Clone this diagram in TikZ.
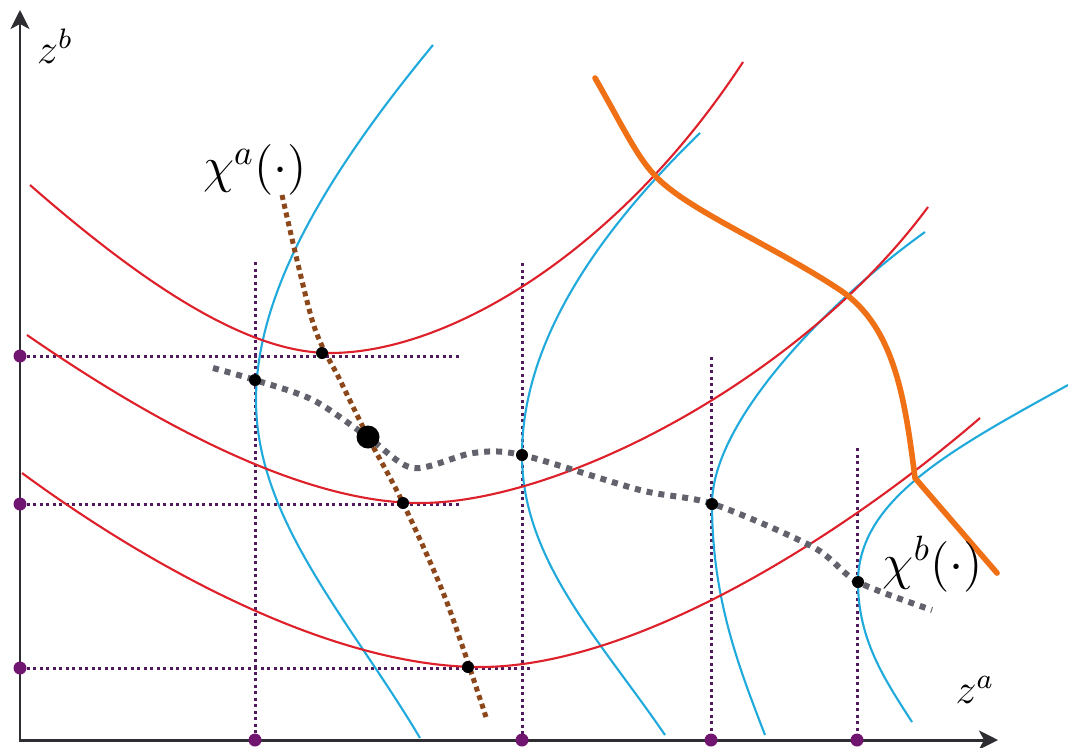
\documentclass[tikz,border=0pt]{standalone}
\usepackage{amsmath,amssymb}
\usepackage{xcolor}
\usepackage{tikz}
\usetikzlibrary{arrows.meta}
\definecolor{isoac}{RGB}{222,32,42}
\definecolor{isobc}{RGB}{32,170,220}
\definecolor{curvec}{RGB}{240,112,22}
\definecolor{reactac}{RGB}{140,72,26}
\definecolor{reactbc}{RGB}{98,98,108}
\definecolor{projc}{RGB}{80,26,92}
\definecolor{tickc}{RGB}{112,22,112}
\definecolor{axisc}{RGB}{45,45,50}
\tikzset{
  axisline/.style = {draw=axisc, line width=0.85pt,
                     {Stealth[length=1.9mm,width=1.9mm,inset=0.5mm]}-{Stealth[length=1.9mm,width=1.9mm,inset=0.5mm]}},
  isoa/.style     = {draw=isoac, line width=0.6pt},
  isob/.style     = {draw=isobc, line width=0.6pt},
  contract/.style = {draw=curvec, line width=1.6pt, line cap=round},
  reacta/.style   = {draw=reactac, line width=0.5mm, dash pattern=on 0.5mm off 0.4mm},
  reactb/.style   = {draw=reactbc, line width=0.6mm, dash pattern=on 0.6mm off 0.6mm},
  proj/.style     = {draw=projc, line width=0.3mm, dash pattern=on 0.3mm off 0.35mm},
  tickdot/.style  = {circle, fill=tickc, inner sep=0pt, minimum size=1.3mm},
  eqdot/.style    = {circle, fill=black, inner sep=0pt, minimum size=1.2mm},
  bigdot/.style   = {circle, fill=black, inner sep=0pt, minimum size=2.3mm},
  axislbl/.style  = {font=\fontsize{12}{14}\selectfont, inner sep=0pt},
  fnlbl/.style    = {font=\fontsize{14}{16}\selectfont, inner sep=0pt},
}
\begin{document}
\begin{tikzpicture}[x=0.1mm, y=-0.1mm]
\useasboundingbox (0,0) rectangle (1068,747);

% projections onto the axes
\draw[proj] (20,356) -- (460,356);
\draw[proj] (20,504) -- (460,504);
\draw[proj] (20,668) -- (533,668);
\draw[proj] (255,262) -- (255,740);
\draw[proj] (522,263) -- (522,740);
\draw[proj] (711,357) -- (711,740);
\draw[proj] (857,448) -- (857,740);

\draw[axisline] (20,10) -- (20,740) -- (998,740);

\draw[isob] (433,45) .. controls (330,170) and (256,290) .. (256,400)
  .. controls (256,520) and (350,620) .. (420,738);
\draw[isob] (700,133) .. controls (600,230) and (522,340) .. (522,455)
  .. controls (522,560) and (600,640) .. (665,735);
\draw[isob] (925,232) .. controls (830,300) and (712,420) .. (712,504)
  .. controls (712,600) and (740,670) .. (765,735);
\draw[isob] (1068,385) .. controls (950,450) and (858,500) .. (858,582)
  .. controls (858,640) and (885,680) .. (912,722);

\draw[isoa] (30,185) .. controls (150,290) and (250,353) .. (330,353)
  .. controls (450,353) and (620,250) .. (743,62);
\draw[isoa] (27,335) .. controls (150,420) and (300,503) .. (420,503)
  .. controls (560,503) and (800,380) .. (928,207);
\draw[isoa] (22,473) .. controls (165,578) and (340,667) .. (480,667)
  .. controls (640,667) and (850,530) .. (980,418);

\draw[contract] (595,78) .. controls (625,130) and (640,165) .. (665,185)
  .. controls (700,215) and (780,250) .. (840,290)
  .. controls (895,327) and (905,400) .. (915,478) -- (997,573);

\draw[reacta] plot[smooth] coordinates {(282,195) (313,323) (340,380) (368,437) (403,503)
  (446,600) (486,717)};
\draw[reactb] plot[smooth] coordinates {(213,368) (255,380) (313,400) (368,437) (413,468)
  (473,453) (522,455) (640,490) (713,504) (813,547) (858,582) (932,610)};

\node[tickdot] (ty1) at (20,356) {};
\node[tickdot] (ty2) at (20,504) {};
\node[tickdot] (ty3) at (20,668) {};
\node[tickdot] (tx1) at (255,740) {};
\node[tickdot] (tx2) at (522,740) {};
\node[tickdot] (tx3) at (711,740) {};
\node[tickdot] (tx4) at (857,740) {};

\node[eqdot] (pa1) at (322,353) {};
\node[eqdot] (pa2) at (403,503) {};
\node[eqdot] (pa3) at (468,667) {};
\node[eqdot] (pb1) at (255,380) {};
\node[eqdot] (pb2) at (522,455) {};
\node[eqdot] (pb3) at (712,504) {};
\node[eqdot] (pb4) at (858,582) {};
\node[bigdot] (nash) at (368,437) {};

\node[axislbl] (zb) at (55,46) {$z^{b}$};
\node[axislbl] (za) at (975,690) {$z^{a}$};
\node[fnlbl] (chia) at (255,170) {$\chi^{a}(\cdot)$};
\node[fnlbl] (chib) at (933,564) {$\chi^{b}(\cdot)$};

\end{tikzpicture}
\end{document}
